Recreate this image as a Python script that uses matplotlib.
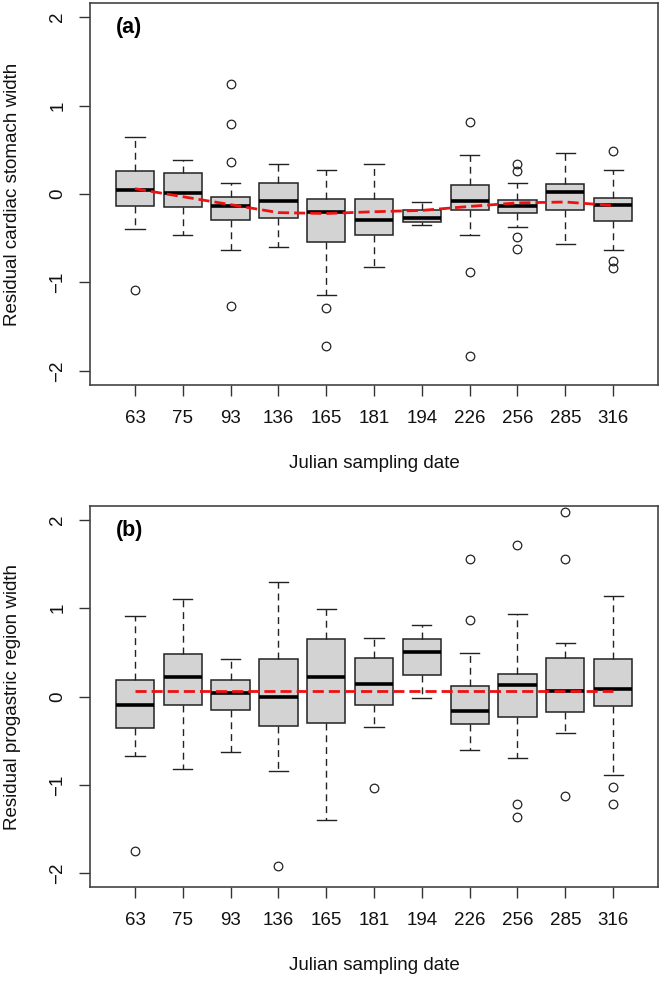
import matplotlib
matplotlib.use('Agg')
import matplotlib.pyplot as plt

plt.rcParams['font.family'] = ['Liberation Sans', 'DejaVu Sans']

dates = ['63', '75', '93', '136', '165', '181', '194', '226', '256', '285', '316']

# (a) cardiac stomach width residuals
a_whislo = [-0.39, -0.46, -0.63, -0.60, -1.14, -0.82, -0.355, -0.46, -0.37, -0.57, -0.63]
a_q1 = [-0.14, -0.15, -0.29, -0.27, -0.54, -0.46, -0.32, -0.18, -0.22, -0.18, -0.31]
a_med = [0.045, 0.015, -0.13, -0.075, -0.205, -0.29, -0.275, -0.08, -0.13, 0.02, -0.125]
a_q3 = [0.26, 0.24, -0.035, 0.13, -0.055, -0.055, -0.18, 0.10, -0.07, 0.11, -0.045]
a_whishi = [0.65, 0.39, 0.125, 0.34, 0.27, 0.335, -0.085, 0.445, 0.12, 0.46, 0.27]
a_fliers = [[-1.09], [], [1.24, 0.79, 0.36, -1.27], [], [-1.29, -1.72], [], [],
            [0.81, -0.88, -1.83], [0.34, 0.26, -0.49, -0.62], [], [0.49, -0.76, -0.84]]
a_fit = [0.06, -0.03, -0.12, -0.21, -0.22, -0.20, -0.185, -0.14, -0.10, -0.09, -0.13]

# (b) progastric region width residuals
b_whislo = [-0.67, -0.82, -0.63, -0.84, -1.40, -0.34, -0.02, -0.60, -0.70, -0.415, -0.89]
b_q1 = [-0.355, -0.095, -0.155, -0.335, -0.30, -0.10, 0.24, -0.315, -0.23, -0.175, -0.11]
b_med = [-0.10, 0.225, 0.04, -0.01, 0.22, 0.145, 0.505, -0.16, 0.13, 0.06, 0.08]
b_q3 = [0.19, 0.48, 0.185, 0.425, 0.65, 0.44, 0.65, 0.115, 0.25, 0.435, 0.42]
b_whishi = [0.91, 1.10, 0.43, 1.30, 0.995, 0.66, 0.805, 0.495, 0.935, 0.61, 1.14]
b_fliers = [[-1.75], [], [], [-1.92], [], [-1.035], [],
            [1.56, 0.87], [1.72, -1.22, -1.36], [2.09, 1.555, -1.13], [-1.02, -1.22]]
b_fit = [0.06] * 11


def panel(ax, whislo, q1, med, q3, whishi, fliers, fit, tag, ylabel):
    stats = []
    for i in range(len(dates)):
        stats.append(dict(med=med[i], q1=q1[i], q3=q3[i], whislo=whislo[i],
                          whishi=whishi[i], fliers=fliers[i]))
    pos = list(range(1, len(dates) + 1))
    ax.bxp(stats, positions=pos, widths=0.8, capwidths=0.4, patch_artist=True,
           boxprops=dict(facecolor='#d3d3d3', edgecolor='#222222', linewidth=1.1),
           medianprops=dict(color='black', linewidth=2.6, solid_capstyle='butt'),
           whiskerprops=dict(color='#222222', linewidth=1.0, linestyle=(0, (5, 3.5))),
           capprops=dict(color='#222222', linewidth=1.0),
           flierprops=dict(marker='o', markerfacecolor='none', markeredgecolor='#222222',
                           markersize=6.2, markeredgewidth=0.9))
    ax.plot(pos, fit, color='#ee1111', linewidth=2.0, dashes=(4, 1.8), zorder=5)
    ax.set_xlim(0.06, 11.94)
    ax.set_ylim(-2.16, 2.16)
    ax.set_yticks([-2, -1, 0, 1, 2])
    ax.set_yticklabels(['\u22122', '\u22121', '0', '1', '2'], rotation=90, va='center')
    ax.set_xticks(pos)
    ax.set_xticklabels(dates)
    ax.tick_params(axis='both', direction='out', length=8, width=1.0, color='#333333',
                   labelsize=13.5, labelcolor='#111111')
    ax.tick_params(axis='x', pad=10)
    ax.tick_params(axis='y', pad=9)
    for s in ax.spines.values():
        s.set_color('#444444')
        s.set_linewidth(1.2)
    ax.set_xlabel('Julian sampling date', fontsize=13.5, color='#111111')
    ax.set_ylabel(ylabel, fontsize=13.5, color='#111111')
    ax.xaxis.set_label_coords(0.5, -0.183)
    ax.yaxis.set_label_coords(-0.122, 0.5)
    ax.text(0.6, 1.88, tag, fontsize=15.5, fontweight='bold', ha='left', va='center')


fig = plt.figure(figsize=(6.61, 9.82), dpi=100)
ax1 = fig.add_axes([0.1362, 0.6079, 0.8593, 0.389])
ax2 = fig.add_axes([0.1362, 0.0964, 0.8593, 0.3886])

panel(ax1, a_whislo, a_q1, a_med, a_q3, a_whishi, a_fliers, a_fit, '(a)',
      'Residual cardiac stomach width')
panel(ax2, b_whislo, b_q1, b_med, b_q3, b_whishi, b_fliers, b_fit, '(b)',
      'Residual progastric region width')

fig.savefig('out.png', dpi=100)
